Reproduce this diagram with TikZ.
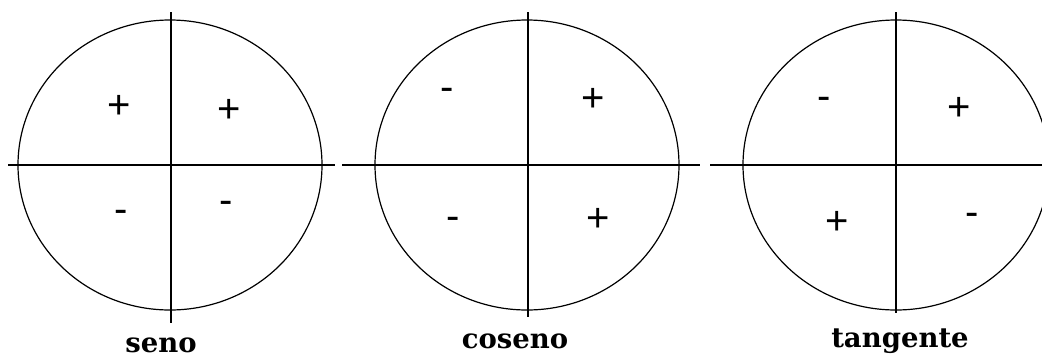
\documentclass[tikz,border=0pt]{standalone}
\usepackage{fontspec}
\usepackage{tikz}
\newfontfamily\labelfont{DejaVu Serif}
\newfontfamily\signfont{Liberation Sans}
\tikzset{
  rim/.style={draw=black,line width=1.2pt},
  axis/.style={draw=black,line width=1.8pt},
  plussign/.style={anchor=base,inner sep=0pt,yshift=-14.5pt,font=\signfont\fontsize{40}{42}\selectfont},
  minussign/.style={anchor=base,inner sep=0pt,yshift=-10pt,font=\signfont\fontsize{40}{42}\selectfont},
  funclabel/.style={anchor=base,inner sep=0pt,font=\labelfont\bfseries\fontsize{27.5}{29}\selectfont},
}

\begin{document}
\begin{tikzpicture}[x=1pt,y=-1pt]
			\useasboundingbox (0,0) rectangle (1042,357);
			% seno
			\draw[rim] (170,165) ellipse [x radius=152, y radius=145];
			\draw[axis] (8,165)--(335,165); \draw[axis] (171,12)--(171,323);
			\node[plussign] (s1) at (119,104) {+}; \node[plussign] (s2) at (229,108) {+};
			\node[minussign] (s3) at (121,212) {-}; \node[minussign] (s4) at (226,203) {-};
			\node[funclabel] (seno) at (161,352) {seno};
			% coseno
			\draw[rim] (527,165) ellipse [x radius=152, y radius=145];
			\draw[axis] (342,165)--(700,165); \draw[axis] (528,12)--(528,317);
			\node[minussign] (c1) at (447,90) {-}; \node[plussign] (c2) at (593,97) {+};
			\node[minussign] (c3) at (453,219) {-}; \node[plussign] (c4) at (598,217) {+};
			\node[funclabel] (coseno) at (515,348) {coseno};
			% tangente
			\draw[rim] (896,165) ellipse [x radius=153, y radius=145];
			\draw[axis] (710,165)--(1042,165); \draw[axis] (896,12)--(896,313);
			\node[minussign] (t1) at (824,99) {-}; \node[plussign] (t2) at (959,106) {+};
			\node[plussign] (t3) at (837,220) {+}; \node[minussign] (t4) at (972,215) {-};
			\node[funclabel] (tangente) at (900,347) {tangente};
		\end{tikzpicture}
\end{document}
